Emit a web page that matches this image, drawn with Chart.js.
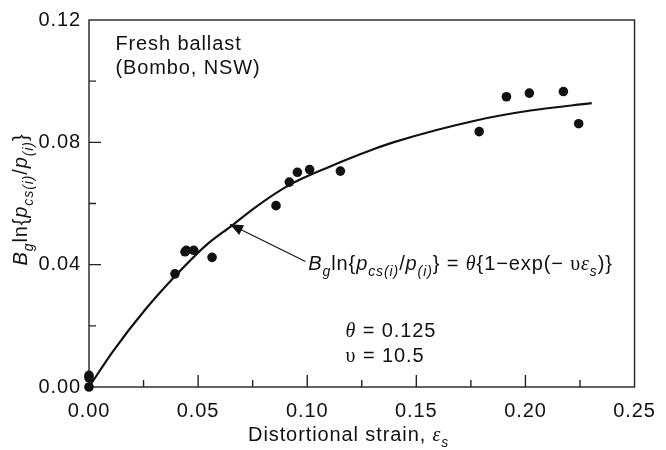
<!DOCTYPE html>
<html>
<head>
<meta charset="utf-8">
<script src="https://cdn.jsdelivr.net/npm/chart.js@4/dist/chart.umd.min.js"></script>
<style>
html,body{margin:0;padding:0;background:#fff;}
#wrap{width:666px;height:450px;position:relative;}
</style>
</head>
<body>
<div id="wrap"><canvas id="c" width="666" height="450"></canvas></div>
<script>
// ---- data ----
const pointsX = [0, 0, 0, 0.0394, 0.0440, 0.0446, 0.0480, 0.0564, 0.0857, 0.0918, 0.0955, 0.1011, 0.1152, 0.1788, 0.1913, 0.2018, 0.2174, 0.2244];
const pointsY = [0.0038, 0.0030, 0.0000, 0.0370, 0.0442, 0.0447, 0.0447, 0.0424, 0.0593, 0.0670, 0.0702, 0.0711, 0.0706, 0.0835, 0.0949, 0.0961, 0.0966, 0.0861];
const curveX = [0, 0.0109, 0.0259, 0.0394, 0.0536, 0.0655, 0.0767, 0.0917, 0.1095, 0.1306, 0.1394, 0.1783, 0.2023, 0.2304];
const curveY = [0, 0.0116, 0.0254, 0.0362, 0.0463, 0.0528, 0.0590, 0.0660, 0.0718, 0.0778, 0.0800, 0.0873, 0.0904, 0.0928];
const xTicks = [0, 0.05, 0.10, 0.15, 0.20, 0.25];
const yTicks = [0, 0.04, 0.08, 0.12];
const arrowTip = [0.0646, 0.0532];
const arrowTail = [0.0992, 0.0410];

const FONT = '"Liberation Sans", Arial, Helvetica, sans-serif';
const SERIF = '"Liberation Serif", "Times New Roman", serif';
const INK = '#111111';
const LS = '0.9px';
const FS = 20;

function fontFor(s, size) {
  const sz = s.sub ? Math.round(size * 0.72) : size;
  return (s.it ? 'italic ' : '') + sz + 'px ' + (s.serif ? SERIF : FONT);
}
function richWidth(ctx, segs, size) {
  let w = 0;
  for (const s of segs) { ctx.font = fontFor(s, size); w += ctx.measureText(s.t).width; }
  return w;
}
function drawRich(ctx, segs, x, y, size, align) {
  const w = richWidth(ctx, segs, size);
  let cx = align === 'center' ? x - w / 2 : x;
  ctx.textAlign = 'left';
  ctx.textBaseline = 'alphabetic';
  for (const s of segs) {
    ctx.font = fontFor(s, size);
    ctx.fillText(s.t, cx, y + (s.sub ? size * 0.3 : 0));
    cx += ctx.measureText(s.t).width;
  }
}

const eqSegs = [
  {t:'B', it:1}, {t:'g', it:1, sub:1}, {t:'ln{'}, {t:'p', it:1}, {t:'cs(i)', it:1, sub:1},
  {t:'/'}, {t:'p', it:1}, {t:'(i)', it:1, sub:1}, {t:'} = '}, {t:'θ', it:1, serif:1},
  {t:'{1−exp(− '}, {t:'υ', serif:1}, {t:'ε', it:1, serif:1}, {t:'s', it:1, sub:1}, {t:')}'}
];
const yLabelSegs = [
  {t:'B', it:1}, {t:'g', it:1, sub:1}, {t:'ln{'}, {t:'p', it:1}, {t:'cs(i)', it:1, sub:1},
  {t:'/'}, {t:'p', it:1}, {t:'(i)', it:1, sub:1}, {t:'}'}
];
const xLabelSegs = [{t:'Distortional strain, '}, {t:'ε', it:1, serif:1}, {t:'s', it:1, sub:1}];
const thetaSegs = [{t:'θ', it:1, serif:1}, {t:' = 0.125'}];
const upsSegs = [{t:'υ', serif:1}, {t:' = 10.5'}];

const decor = {
  id: 'decor',
  beforeDraw(chart) { chart.ctx.letterSpacing = LS; },
  afterDraw(chart) {
    const ctx = chart.ctx, a = chart.chartArea;
    const xs = chart.scales.x, ys = chart.scales.y;
    ctx.save();
    ctx.letterSpacing = LS;
    // arrow
    const tx = xs.getPixelForValue(arrowTip[0]), ty = ys.getPixelForValue(arrowTip[1]);
    const ex = xs.getPixelForValue(arrowTail[0]), ey = ys.getPixelForValue(arrowTail[1]);
    ctx.strokeStyle = INK; ctx.lineWidth = 1.1;
    ctx.beginPath(); ctx.moveTo(ex, ey); ctx.lineTo(tx, ty); ctx.stroke();
    const ang = Math.atan2(ty - ey, tx - ex), hl = 13, hw = 5.5;
    ctx.fillStyle = INK;
    ctx.beginPath();
    ctx.moveTo(tx, ty);
    ctx.lineTo(tx - hl * Math.cos(ang) + hw * Math.sin(ang), ty - hl * Math.sin(ang) - hw * Math.cos(ang));
    ctx.lineTo(tx - hl * Math.cos(ang) - hw * Math.sin(ang), ty - hl * Math.sin(ang) + hw * Math.cos(ang));
    ctx.closePath(); ctx.fill();
    // texts
    ctx.fillStyle = INK;
    drawRich(ctx, [{t:'Fresh ballast'}], xs.getPixelForValue(0.0121), ys.getPixelForValue(0.1102), FS, 'left');
    drawRich(ctx, [{t:'(Bombo, NSW)'}], xs.getPixelForValue(0.0121), ys.getPixelForValue(0.1025), FS, 'left');
    drawRich(ctx, eqSegs, xs.getPixelForValue(0.1005), ys.getPixelForValue(0.0384), FS, 'left');
    drawRich(ctx, thetaSegs, xs.getPixelForValue(0.1176), ys.getPixelForValue(0.0162), FS, 'left');
    drawRich(ctx, upsSegs, xs.getPixelForValue(0.1176), ys.getPixelForValue(0.0082), FS, 'left');
    drawRich(ctx, xLabelSegs, xs.getPixelForValue(0.119), 441, FS, 'center');
    ctx.save();
    ctx.translate(27, ys.getPixelForValue(0.0613));
    ctx.rotate(-Math.PI / 2);
    drawRich(ctx, yLabelSegs, 0, 0, FS, 'center');
    ctx.restore();
    ctx.restore();
  },
  beforeDatasetsDraw(chart) {
    const ctx = chart.ctx, a = chart.chartArea;
    const xs = chart.scales.x, ys = chart.scales.y;
    ctx.save();
    ctx.strokeStyle = '#222';
    ctx.lineWidth = 1.4;
    ctx.strokeRect(a.left, a.top, a.right - a.left, a.bottom - a.top);
    ctx.beginPath();
    for (let i = 1; i < 10; i++) {
      const px = xs.getPixelForValue(i * 0.025), len = i % 2 === 0 ? 12 : 7;
      ctx.moveTo(px, a.bottom); ctx.lineTo(px, a.bottom - len);
    }
    for (let i = 1; i < 6; i++) {
      const py = ys.getPixelForValue(i * 0.02), len = i % 2 === 0 ? 12 : 7;
      ctx.moveTo(a.left, py); ctx.lineTo(a.left + len, py);
    }
    ctx.stroke();
    ctx.restore();
  }
};

const scatterData = pointsX.map((x, i) => ({x, y: pointsY[i]}));
const curveData = curveX.map((x, i) => ({x, y: curveY[i]}));

new Chart(document.getElementById('c'), {
  type: 'scatter',
  data: {
    datasets: [
      { label: 'fit', data: curveData, showLine: true, borderColor: INK, borderWidth: 2.2,
        pointRadius: 0, cubicInterpolationMode: 'monotone', fill: false, order: 2 },
      { label: 'data', data: scatterData, pointRadius: 4.8, pointBackgroundColor: INK,
        pointBorderWidth: 0, borderColor: INK, order: 1, clip: false }
    ]
  },
  options: {
    responsive: false,
    animation: false,
    devicePixelRatio: 1,
    layout: { padding: { top: 15, right: 20, left: 0, bottom: 0 } },
    plugins: { legend: { display: false }, tooltip: { enabled: false } },
    scales: {
      x: {
        type: 'linear', min: 0, max: 0.25,
        grid: { display: false, drawTicks: false },
        border: { display: false },
        afterBuildTicks: s => { s.ticks = xTicks.map(v => ({value: v})); },
        afterFit: s => { s.height = 63; },
        ticks: { padding: 12, color: INK, font: { family: FONT, size: FS }, maxRotation: 0,
          callback: v => v.toFixed(2) }
      },
      y: {
        type: 'linear', min: 0, max: 0.12,
        grid: { display: false, drawTicks: false },
        border: { display: false },
        afterBuildTicks: s => { s.ticks = yTicks.map(v => ({value: v})); },
        afterFit: s => { s.width = 89; },
        ticks: { padding: 8, color: INK, font: { family: FONT, size: FS },
          callback: v => v.toFixed(2) }
      }
    }
  },
  plugins: [decor]
});
</script>
</body>
</html>
